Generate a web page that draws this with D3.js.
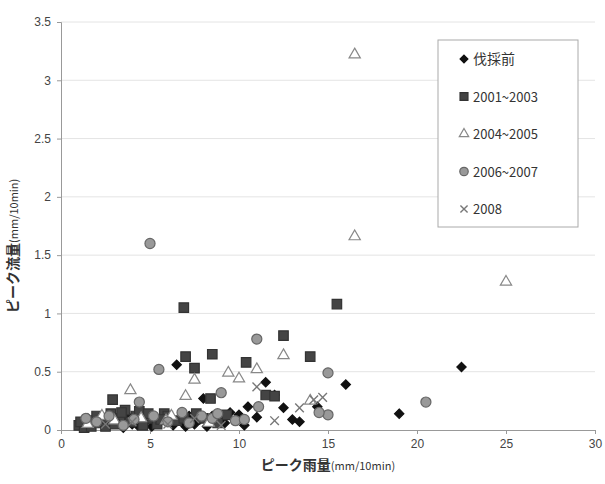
<!DOCTYPE html>
<html>
<head>
<meta charset="utf-8">
<script src="https://cdn.jsdelivr.net/npm/d3@7"></script>
<style>
  body { margin: 0; background: #fff; }
  text { font-family: "Liberation Sans", "Noto Sans CJK JP", sans-serif; }
</style>
</head>
<body>
<div id="chart"></div>
<script>
// Data: [peak rainfall, peak runoff] per period

const legendLabels = ["伐採前", "2001~2003", "2004~2005", "2006~2007", "2008"];

const before = [
    [1.2, 0.03], [1.8, 0.05], [2.5, 0.04], [3.2, 0.06], [4.0, 0.05], [4.8, 0.08],
    [5.5, 0.06], [6.0, 0.1], [6.8, 0.07], [7.2, 0.12], [7.8, 0.09], [8.0, 0.27],
    [8.5, 0.12], [8.9, 0.11], [9.5, 0.15], [10.0, 0.13], [10.5, 0.2], [11.0, 0.11],
    [11.5, 0.41], [12.0, 0.3], [12.5, 0.19], [13.0, 0.09], [13.4, 0.07], [14.4, 0.2],
    [16.0, 0.39], [19.0, 0.14], [22.5, 0.54], [6.5, 0.56], [2.2, 0.09], [3.8, 0.11],
    [1.5, 0.1], [2.7, 0.09], [3.5, 0.02], [4.3, 0.04], [5.1, 0.03], [6.3, 0.04],
    [7.0, 0.03], [7.5, 0.05], [8.2, 0.03], [9.2, 0.06], [10.3, 0.04]
];

const p2001 = [
    [6.9, 1.05], [7.0, 0.63], [8.5, 0.65], [7.5, 0.53], [10.4, 0.58], [12.5, 0.81],
    [14.0, 0.63], [15.5, 1.08], [2.9, 0.26], [11.5, 0.3], [12.0, 0.29], [8.4, 0.27],
    [1.0, 0.04], [1.5, 0.08], [2.0, 0.12], [2.2, 0.06], [2.8, 0.14], [3.3, 0.1],
    [3.6, 0.17], [4.2, 0.12], [5.0, 0.1], [5.8, 0.14], [6.5, 0.08], [7.6, 0.14],
    [9.3, 0.13], [1.3, 0.02], [2.5, 0.03], [4.6, 0.04], [1.1, 0.07], [1.7, 0.03],
    [2.4, 0.1], [3.0, 0.05], [3.9, 0.07], [4.4, 0.16], [5.4, 0.05], [6.0, 0.12],
    [6.9, 0.1], [8.0, 0.1], [8.8, 0.06], [3.4, 0.15], [4.9, 0.14], [5.6, 0.09]
];

const p2004 = [
    [16.5, 3.22], [16.5, 1.66], [25.0, 1.27], [12.5, 0.64], [9.4, 0.49], [10.0, 0.44],
    [11.0, 0.52], [3.9, 0.34], [7.0, 0.29], [7.5, 0.43], [14.0, 0.25], [1.5, 0.05],
    [3.0, 0.08], [4.5, 0.1], [6.2, 0.12], [8.3, 0.06], [2.3, 0.12], [5.9, 0.08]
];

const p2006 = [
    [5.0, 1.6], [5.5, 0.52], [4.4, 0.24], [11.0, 0.78], [15.0, 0.49], [9.0, 0.32],
    [11.1, 0.2], [15.0, 0.13], [14.5, 0.15], [8.5, 0.1], [20.5, 0.24], [2.0, 0.07],
    [3.5, 0.04], [5.2, 0.12], [6.8, 0.15], [9.8, 0.08], [1.4, 0.1], [2.7, 0.12],
    [4.1, 0.09], [6.0, 0.07], [7.2, 0.06], [7.9, 0.12], [8.8, 0.14], [10.3, 0.09]
];

const p2008 = [
    [11.0, 0.37], [13.4, 0.19], [14.2, 0.26], [14.7, 0.28], [2.5, 0.05], [4.0, 0.07],
    [6.0, 0.05], [7.5, 0.1], [9.0, 0.04], [12.0, 0.08]
];

const xTicks = [0, 5, 10, 15, 20, 25, 30];
const yTicks = [0, 0.5, 1, 1.5, 2, 2.5, 3, 3.5];

// Dimensions

const margin = { top: 22, right: 10, bottom: 54, left: 61 };
const width = 605 - margin.left - margin.right;
const height = 484 - margin.top - margin.bottom;

const x = d3.scaleLinear().domain([0, 30]).range([0, 534]);
const y = d3.scaleLinear().domain([0, 3.5]).range([height, 0]);

const svg = d3.select("#chart")
    .append("svg")
        .attr("width", 605)
        .attr("height", 484)
    .append("g")
        .attr("transform", `translate(${margin.left},${margin.top})`);

// gridlines
svg.selectAll(".yGrid")
    .data(yTicks.slice(1))
    .join("line")
    .attr("x1", 0)
    .attr("x2", x(30))
    .attr("y1", d => y(d))
    .attr("y2", d => y(d))
    .attr("stroke", "#e4e4e4")
    .attr("stroke-width", 1);

// axes
const xAxis = svg.append("g")
    .attr("transform", `translate(0,${height})`)
    .call(d3.axisBottom(x).tickValues(xTicks).tickSize(4).tickPadding(5));

const yAxis = svg.append("g")
    .call(d3.axisLeft(y).tickValues(yTicks).tickSize(4).tickPadding(6)
        .tickFormat(d3.format("")));

[xAxis, yAxis].forEach(a => {
    a.select(".domain").attr("stroke", "#999");
    a.selectAll(".tick line").attr("stroke", "#999");
    a.selectAll(".tick text")
        .attr("fill", "#444")
        .style("font-size", "12px");
});

// axis titles
const xTitle = svg.append("text")
    .attr("x", x(15))
    .attr("y", height + 40)
    .attr("text-anchor", "middle")
    .attr("fill", "#333")
    .style("font-family", "'Noto Sans CJK JP', sans-serif")
    .style("font-size", "14px")
    .style("font-weight", "bold");
xTitle.append("tspan").text("ピーク雨量");
xTitle.append("tspan").text("(mm/10min)").style("font-size", "11px").style("font-weight", "normal");

const yTitle = svg.append("text")
    .attr("transform", `translate(${-43},${y(1.58)}) rotate(-90)`)
    .attr("text-anchor", "middle")
    .attr("fill", "#333")
    .style("font-family", "'Noto Sans CJK JP', sans-serif")
    .style("font-size", "14px")
    .style("font-weight", "bold");
yTitle.append("tspan").text("ピーク流量");
yTitle.append("tspan").text("(mm/10min)").style("font-size", "11px").style("font-weight", "normal");

// marker styles
const styles = [
    { data: before, sym: d3.symbolDiamond2, size: 55, fill: "#111", stroke: "#111" },
    { data: p2001, sym: d3.symbolSquare, size: 90, fill: "#444", stroke: "#333" },
    { data: p2004, sym: d3.symbolTriangle, size: 55, fill: "#fff", stroke: "#888" },
    { data: p2006, sym: d3.symbolCircle, size: 80, fill: "#999", stroke: "#666" },
    { data: p2008, sym: d3.symbolTimes, size: 50, fill: "none", stroke: "#777" }
];

function drawMark(sel, s) {
    sel.attr("d", d3.symbol().type(s.sym).size(s.size))
        .attr("fill", s.fill)
        .attr("stroke", s.stroke)
        .attr("stroke-width", s.sym === d3.symbolTimes ? 1.4 : 1.2);
}

styles.forEach(s => {
    svg.append("g").selectAll("path")
        .data(s.data)
        .join("path")
        .attr("transform", d => `translate(${x(d[0])},${y(d[1])})`)
        .call(drawMark, s);
});

// legend
const legend = svg.append("g")
    .attr("transform", `translate(${438 - margin.left},${40 - margin.top})`);

legend.append("rect")
    .attr("width", 140)
    .attr("height", 187)
    .attr("fill", "#fff")
    .attr("stroke", "#aaa");

legendLabels.forEach((label, i) => {
    const row = legend.append("g")
        .attr("transform", `translate(26,${19 + i * 37.5})`);
    row.append("path").call(drawMark, Object.assign({}, styles[i], { size: styles[i].size * 0.7 }));
    row.append("text")
        .attr("x", 9)
        .attr("y", 5)
        .attr("fill", "#333")
        .style("font-size", i === 0 ? "14px" : "13px")
        .style("font-family", "'Noto Sans CJK JP', sans-serif")
        .text(label);
});
</script>
</body>
</html>
